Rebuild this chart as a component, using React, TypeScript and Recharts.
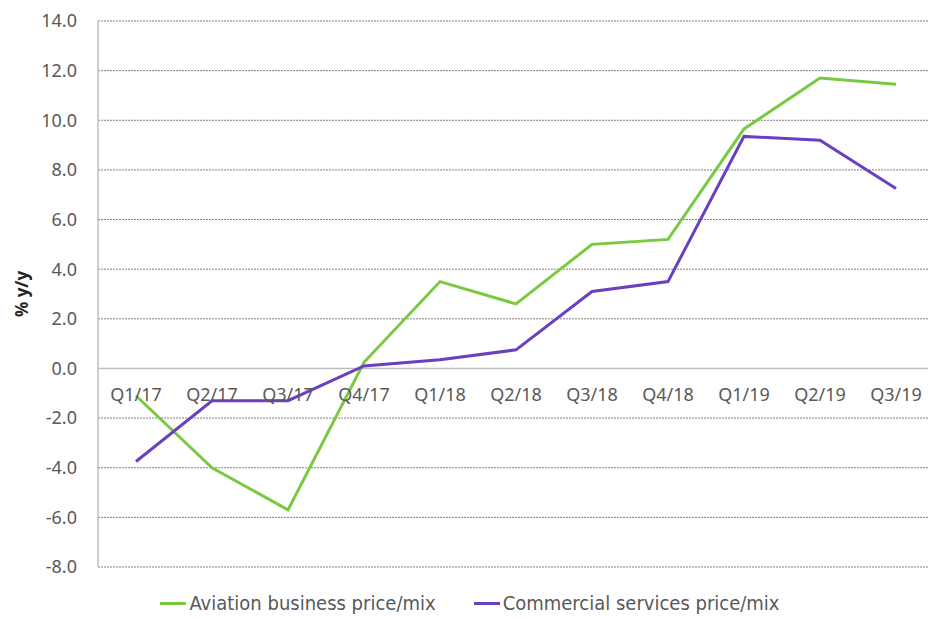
import { LineChart, Line, XAxis, YAxis, CartesianGrid, Legend, ReferenceLine, Label } from "recharts";

const quarters = ["Q1/17", "Q2/17", "Q3/17", "Q4/17", "Q1/18", "Q2/18", "Q3/18", "Q4/18", "Q1/19", "Q2/19", "Q3/19"];
const aviation = [-1.1, -4.0, -5.7, 0.25, 3.5, 2.6, 5.0, 5.2, 9.65, 11.7, 11.45];
const commercial = [-3.75, -1.3, -1.3, 0.1, 0.35, 0.75, 3.1, 3.5, 9.35, 9.2, 7.25];
const yTicks = [-8, -6, -4, -2, 0, 2, 4, 6, 8, 10, 12, 14];

const W = 920;
const H = 611;
const X_AXIS_H = 20;
const margin = { top: 13, right: 0, left: 0, bottom: 52 - X_AXIS_H };
const plotH = H - margin.top - margin.bottom - X_AXIS_H;
const yMin = yTicks[0];
const yMax = yTicks[yTicks.length - 1];
// distance from plot bottom up to the zero line, where the category labels sit
const zeroLift = ((0 - yMin) / (yMax - yMin)) * plotH;

const data = quarters.map((q, i) => ({ q, aviation: aviation[i], commercial: commercial[i] }));

const GREEN = "#7ac943";
const PURPLE = "#6a3fc0";
const TEXT = "#595959";
const FONT = "'Noto Sans', 'Open Sans', sans-serif";

function QuarterTick({ x, y, payload }: any) {
  return (
    <text x={x} y={y - zeroLift + 33} textAnchor="middle" fill={TEXT} fontSize={18} fontFamily={FONT}>
      {payload.value}
    </text>
  );
}

function LegendContent({ payload }: any) {
  return (
    <div style={{ display: "flex", justifyContent: "center", gap: 38, fontFamily: "'Liberation Sans Narrow', 'DejaVu Sans Condensed', sans-serif", fontSize: 20, color: TEXT }}>
      {(payload || []).map((p: any) => (
        <div key={p.value} style={{ display: "flex", alignItems: "center" }}>
          <span style={{ display: "inline-block", width: 26, height: 3, background: p.color, marginRight: 3 }} />
          <span>{p.value}</span>
        </div>
      ))}
    </div>
  );
}

export default function App() {
  return (
    <div style={{ position: "absolute", top: 8, left: 8, width: W, height: H, overflow: "hidden", background: "#fff" }}>
      <style>{"html, body { overflow: hidden; }"}</style>
      <LineChart width={W} height={H} data={data} margin={margin}>
        <CartesianGrid horizontal vertical={false} stroke="#808080" strokeDasharray="2 1" />
        <XAxis
          dataKey="q"
          height={X_AXIS_H}
          axisLine={false}
          tickLine={false}
          tickSize={0}
          tickMargin={0}
          interval={0}
          padding={{ left: 38, right: 32 }}
          tick={<QuarterTick />}
        />
        <YAxis
          width={90}
          domain={[yMin, yMax]}
          ticks={yTicks}
          interval={0}
          tickFormatter={(v: number) => v.toFixed(1)}
          tick={{ fill: TEXT, fontSize: 18, fontFamily: FONT }}
          axisLine={{ stroke: "#bfbfbf", strokeWidth: 1.5 }}
          tickLine={false}
          tickSize={0}
          tickMargin={21}
        >
          <Label
            value="% y/y"
            angle={-90}
            position="insideLeft"
            offset={14}
            style={{ fontFamily: FONT, fontSize: 17, fontWeight: 700, fill: "#262626", textAnchor: "middle" }}
          />
        </YAxis>
        <ReferenceLine y={0} stroke="#bfbfbf" strokeWidth={1.5} />
        <Line
          type="linear"
          dataKey="aviation"
          name="Aviation business price/mix"
          stroke={GREEN}
          strokeWidth={3}
          dot={false}
          activeDot={false}
          isAnimationActive={false}
        />
        <Line
          type="linear"
          dataKey="commercial"
          name="Commercial services price/mix"
          stroke={PURPLE}
          strokeWidth={3}
          dot={false}
          activeDot={false}
          isAnimationActive={false}
        />
        <Legend
          layout="horizontal"
          verticalAlign="middle"
          align="center"
          wrapperStyle={{ top: 583, left: 0, width: 924 }}
          content={<LegendContent />}
        />
      </LineChart>
    </div>
  );
}
